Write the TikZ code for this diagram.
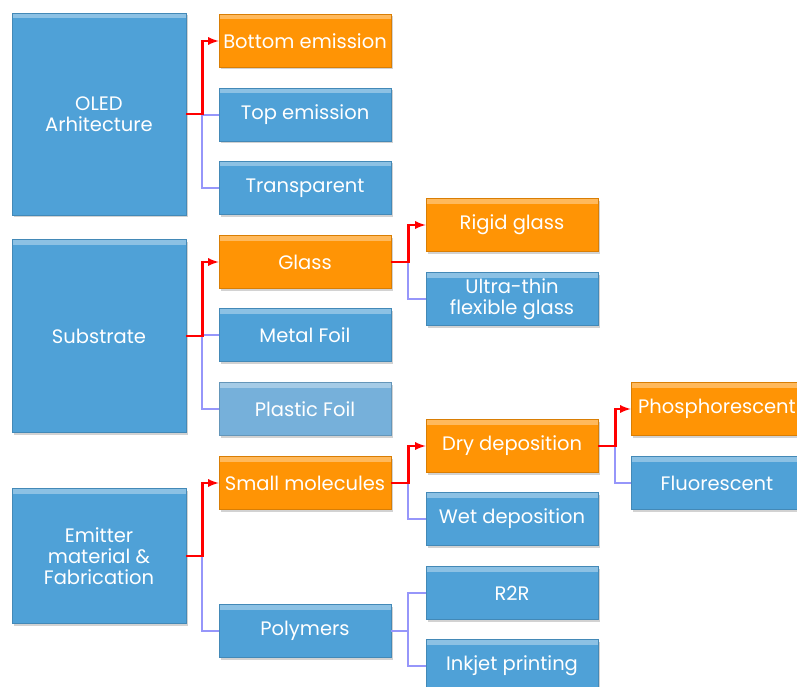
\documentclass[tikz,border=0pt]{standalone}
\usepackage{fontspec}
\setmainfont{Poppins}
\usetikzlibrary{arrows,shadows,positioning}
\definecolor{boxblue}{RGB}{79,161,215}
\definecolor{boxorange}{RGB}{255,148,5}
\definecolor{boxpale}{RGB}{118,176,218}
\definecolor{lav}{RGB}{150,150,250}

\tikzset{
  box/.style={rectangle, fill=boxblue, draw=boxblue!85!black, line width=0.6pt, text=white,
    minimum width=172pt, minimum height=53pt, inner sep=1pt, align=center,
    font=\fontsize{19.5}{21}\selectfont, drop shadow={opacity=0.35,shadow xshift=2pt,shadow yshift=-2pt},
    path picture={\fill[white,opacity=0.35] (path picture bounding box.north west) rectangle
      ([yshift=-5pt]path picture bounding box.north east);}},
  hot/.style={box, fill=boxorange, draw=boxorange!85!black},
  pale/.style={box, fill=boxpale, draw=boxpale!85!black},
  big/.style={box, minimum width=174pt},
  lavline/.style={lav, line width=2pt},
  redline/.style={red, line width=2.6pt, -latex}
}

\begin{document}
\begin{tikzpicture}[x=1pt,y=-1pt]
  \clip (0,0) rectangle (797,687);
  \fill[white] (0,0) rectangle (797,687);

  % left column
  \node[big, minimum height=202pt] (oled) at (99,114) {OLED\\Arhitecture};
  \node[big, minimum height=193pt] (subs) at (99,336) {Substrate};
  \node[big, minimum height=135pt] (emit) at (99,556) {Emitter\\material \&\\Fabrication};

  % second column
  \node[hot] (bottom) at (305,41) {Bottom emission};
  \node[box] (top) at (305,115) {Top emission};
  \node[box] (transp) at (305,188) {Transparent};
  \node[hot] (glass) at (305,262) {Glass};
  \node[box] (metal) at (305,335) {Metal Foil};
  \node[pale] (plastic) at (305,409) {Plastic Foil};
  \node[hot] (small) at (305,483) {Small molecules};
  \node[box] (poly) at (305,631) {Polymers};

  % third column
  \node[hot] (rigid) at (512,225) {Rigid glass};
  \node[box] (thin) at (512,299) {Ultra-thin\\flexible glass};
  \node[hot] (dry) at (512,446) {Dry deposition};
  \node[box] (wet) at (512,519) {Wet deposition};
  \node[box] (rtr) at (512,593) {R2R};
  \node[box] (inkjet) at (512,666) {Inkjet printing};

  % fourth column
  \node[hot] (phos) at (717,409) {Phosphorescent};
  \node[box] (fluo) at (717,483) {Fluorescent};

  % connectors
  \draw[lavline] (oled.east) -- ++(16,0) |- (top.west);
  \draw[lavline] (oled.east) -- ++(16,0) |- (transp.west);
  \draw[redline] (oled.east) -- ++(16,0) |- (bottom.west);

  \draw[lavline] (subs.east) -- ++(16,0) |- (metal.west);
  \draw[lavline] (subs.east) -- ++(16,0) |- (plastic.west);
  \draw[redline] (subs.east) -- ++(16,0) |- (glass.west);

  \draw[lavline] (emit.east) -- ++(16,0) |- (poly.west);
  \draw[redline] (emit.east) -- ++(16,0) |- (small.west);

  \draw[lavline] (glass.east) -- ++(17,0) |- (thin.west);
  \draw[redline] (glass.east) -- ++(17,0) |- (rigid.west);

  \draw[lavline] (small.east) -- ++(17,0) |- (wet.west);
  \draw[redline] (small.east) -- ++(17,0) |- (dry.west);

  \draw[lavline] (poly.east) -- ++(17,0) |- (rtr.west);
  \draw[lavline] (poly.east) -- ++(17,0) |- (inkjet.west);

  \draw[lavline] (dry.east) -- ++(17,0) |- (fluo.west);
  \draw[redline] (dry.east) -- ++(17,0) |- (phos.west);
\end{tikzpicture}
\end{document}
